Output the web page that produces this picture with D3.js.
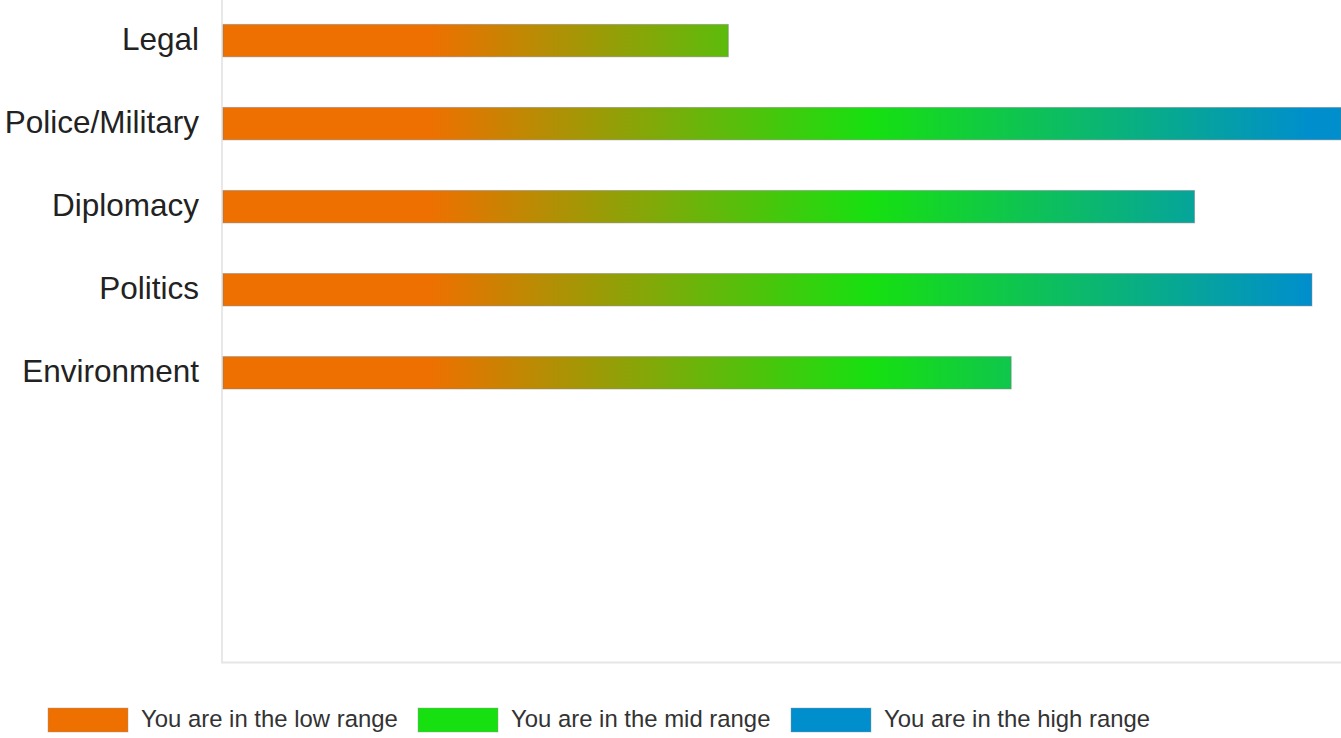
<!DOCTYPE html>
<html><head><meta charset="utf-8">
<script src="https://cdn.jsdelivr.net/npm/d3@7/dist/d3.min.js"></script>
<style>body{margin:0;background:#fff;} svg{display:block;}</style>
</head><body>
<svg id="chart" width="1341" height="738"></svg>
<script>
const categories = ["Legal", "Police/Military", "Diplomacy", "Politics", "Environment"];
const values = [45.2, 100, 86.9, 97.4, 70.5];
const legendLabels = ["You are in the low range", "You are in the mid range", "You are in the high range"];
const legendColors = ["#ee7000", "#16e010", "#008fcc"];
const gradientStops = [
  {value: 18.5, color: "#ee7000"},
  {value: 58, color: "#16e010"},
  {value: 97, color: "#008fcc"}
];

const W = 1341, H = 738;
const m = {left: 223, right: 0, top: 0, bottom: 76};
const svg = d3.select("#chart");
const x = d3.scaleLinear().domain([0, 100]).range([m.left, W - m.right]);
const y = d3.scaleBand().domain(categories.concat(["_a","_b","_c"])).range([-0.5, 663]).paddingInner(0.61).paddingOuter(0.3);

const defs = svg.append("defs");
const grad = defs.append("linearGradient").attr("id", "barGrad")
  .attr("gradientUnits", "userSpaceOnUse")
  .attr("x1", x(0)).attr("x2", x(100)).attr("y1", 0).attr("y2", 0);
gradientStops.forEach(s => grad.append("stop").attr("offset", s.value / 100).attr("stop-color", s.color));

// axes lines
svg.append("line").attr("x1", m.left - 1).attr("x2", m.left - 1).attr("y1", 0).attr("y2", 663)
  .attr("stroke", "#e8e8e8").attr("stroke-width", 2);
svg.append("line").attr("x1", m.left - 2).attr("x2", W).attr("y1", 662.5).attr("y2", 662.5)
  .attr("stroke", "#e6e6e6").attr("stroke-width", 2);

svg.append("g").selectAll("rect").data(categories).join("rect")
  .attr("x", x(0))
  .attr("y", d => y(d))
  .attr("width", (d, i) => x(values[i]) - x(0))
  .attr("height", y.bandwidth())
  .attr("fill", "url(#barGrad)")
  .attr("stroke", "rgba(120,120,120,0.45)")
  .attr("stroke-width", 1);

svg.append("g").selectAll("text").data(categories).join("text")
  .attr("x", 199)
  .attr("y", d => y(d) + y.bandwidth() / 2)
  .attr("dy", "0.29em")
  .attr("text-anchor", "end")
  .attr("font-family", "'Liberation Sans', Arial, sans-serif")
  .attr("font-size", 31.5)
  .attr("fill", "#222")
  .text(d => d);

// legend
const legendX = [48, 418, 791];
const lg = svg.append("g").selectAll("g").data(legendLabels).join("g")
  .attr("transform", (d, i) => `translate(${legendX[i]},708)`);
lg.append("rect").attr("width", 80).attr("height", 24)
  .attr("fill", (d, i) => legendColors[i])
  .attr("stroke", "rgba(150,150,150,0.4)").attr("stroke-width", 1);
lg.append("text").attr("x", 93).attr("y", 19)
  .attr("font-family", "'Liberation Sans', Arial, sans-serif")
  .attr("font-size", 23.9).attr("fill", "#333")
  .text(d => d);
</script>
</body></html>
